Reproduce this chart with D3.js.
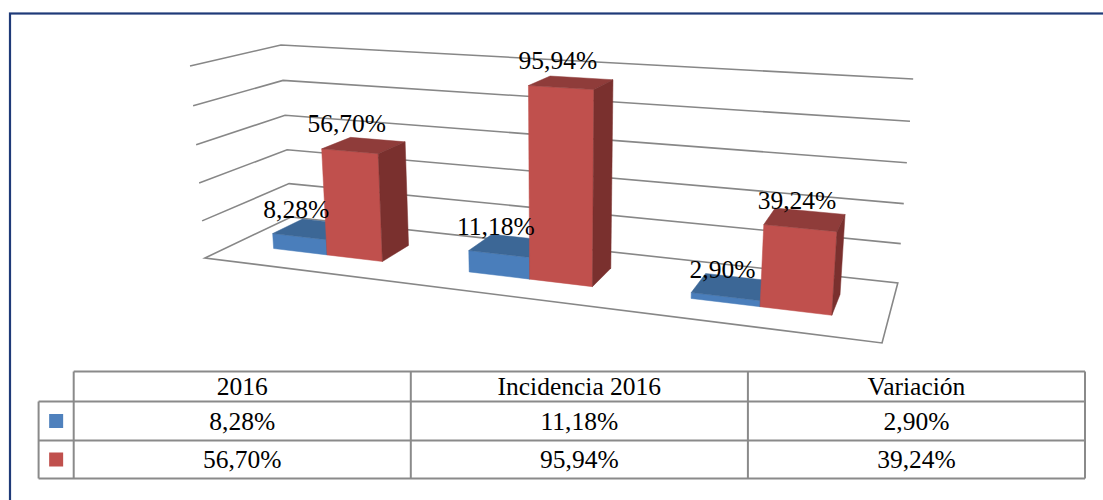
<!DOCTYPE html>
<html>
<head>
<meta charset="utf-8">
<script src="https://cdn.jsdelivr.net/npm/d3@7"></script>
<style>
body { margin: 0; background: #fff; }
</style>
</head>
<body>
<svg id="chart" width="1103" height="500"></svg>
<script>
// DATA
var categories = ["2016", "Incidencia 2016", "Variación"];
var serie1 = [8.28, 11.18, 2.90];
var serie2 = [56.70, 95.94, 39.24];
var valueTicks = [0, 20, 40, 60, 80, 100];

// STYLE
var faceColors = [
	{front: "#4A7EBB", top: "#3C6796", side: "#2F5480"},
	{front: "#C0504D", top: "#8F3C3A", side: "#7A302E"}
];
var legendColors = ["#4F81BD", "#C0504D"];
var gridColor = "#878787";
var tableColor = "#8A8A8A";
var fontSize = 25.5;
var fontFamily = "'Times New Roman', 'Liberation Serif', 'DejaVu Serif', serif";

// camera calibration: corners of the 3d box (world x 0..3, y 0..1, z 0 front..1 back) -> screen
var frameAnchors = [
	{w: [0, 0, 0], s: [206, 258]},
	{w: [0, 1, 0], s: [189, 66]},
	{w: [0, 0, 1], s: [290, 217]},
	{w: [0, 1, 1], s: [282, 45]},
	{w: [3, 0, 1], s: [898, 283]},
	{w: [3, 1, 1], s: [913, 79]},
	{w: [3, 0, 0], s: [882, 343]}
];
var zFront = 0.32, zBack = 0.68;

var svg = d3.select("#chart")
.attr("font-family", fontFamily);

// outer border of the chart area
svg.append("rect")
.attr("x", 10).attr("y", 13.5)
.attr("width", 1100).attr("height", 500)
.attr("fill", "none")
.attr("stroke", "#1F3A78")
.attr("stroke-width", 2.2);

// FUNCTIONS
function fitProjection(pts) {
	var rows = [], rhs = [];
	pts.forEach(function(p) {
		var X = p.w[0], Y = p.w[1], Z = p.w[2], u = p.s[0], v = p.s[1];
		rows.push([X, Y, Z, 1, 0, 0, 0, 0, -u*X, -u*Y, -u*Z]); rhs.push(u);
		rows.push([0, 0, 0, 0, X, Y, Z, 1, -v*X, -v*Y, -v*Z]); rhs.push(v);
	});
	var n = 11, A = [], b = [];
	for (var i = 0; i < n; i++) {
		A[i] = [];
		for (var j = 0; j < n; j++) A[i][j] = d3.sum(rows, function(r) { return r[i]*r[j]; });
		b[i] = d3.sum(rows, function(r, k) { return r[i]*rhs[k]; });
	}
	// gaussian elimination
	for (var c = 0; c < n; c++) {
		var piv = c;
		for (var r = c+1; r < n; r++) if (Math.abs(A[r][c]) > Math.abs(A[piv][c])) piv = r;
		var tmp = A[c]; A[c] = A[piv]; A[piv] = tmp;
		var tb = b[c]; b[c] = b[piv]; b[piv] = tb;
		for (var r2 = c+1; r2 < n; r2++) {
			var f = A[r2][c] / A[c][c];
			for (var k = c; k < n; k++) A[r2][k] -= f*A[c][k];
			b[r2] -= f*b[c];
		}
	}
	var p = new Array(n);
	for (var i2 = n-1; i2 >= 0; i2--) {
		var s = b[i2];
		for (var k2 = i2+1; k2 < n; k2++) s -= A[i2][k2]*p[k2];
		p[i2] = s / A[i2][i2];
	}
	return p;
}

var P = fitProjection(frameAnchors);

function proj(x, y, z) {
	var w = P[8]*x + P[9]*y + P[10]*z + 1;
	return [(P[0]*x + P[1]*y + P[2]*z + P[3]) / w, (P[4]*x + P[5]*y + P[6]*z + P[7]) / w];
}

function area(pts) {
	var a = 0;
	for (var i = 0; i < pts.length; i++) {
		var p = pts[i], q = pts[(i+1) % pts.length];
		a += p[0]*q[1] - q[0]*p[1];
	}
	return a;
}

var line = d3.line();

// SCALES
var yScale = d3.scaleLinear().domain([0, 100]).range([0, 1]);
var xBand = d3.scaleBand().domain(categories).range([0, 3]);
var serBand = d3.scaleBand().domain([0, 1]).range([0, xBand.bandwidth()]).paddingInner(0).paddingOuter(0.75);
var fmt = d3.formatLocale({decimal: ",", thousands: ".", grouping: [3], currency: ["", ""]}).format(".2f");

// WALLS
var walls = svg.append("g")
.attr("fill", "none")
.attr("stroke", gridColor)
.attr("stroke-width", 1.6);

valueTicks.filter(function(t) { return t > 0; }).forEach(function(t) {
	var y = yScale(t);
	walls.append("path").attr("d", line([proj(0, y, 0), proj(0, y, 1), proj(3, y, 1)]));
});
walls.append("path")
.attr("d", line([proj(0, 0, 0), proj(0, 0, 1), proj(3, 0, 1), proj(3, 0, 0)]) + "Z");

// BARS
var bars = [];
[serie1, serie2].forEach(function(serie, s) {
	serie.forEach(function(v, i) {
		var x0 = xBand(categories[i]) + serBand(s);
		bars.push({s: s, value: v, x0: x0, x1: x0 + serBand.bandwidth(), h: yScale(v)});
	});
});
bars.sort(function(a, b) { return a.x0 - b.x0; });

var barsCont = svg.append("g");
bars.forEach(function(d) {
	var x0 = d.x0, x1 = d.x1, h = d.h, z0 = zFront, z1 = zBack;
	var c = faceColors[d.s];
	var faces = [
		{pts: [[x0,0,z0],[x1,0,z0],[x1,h,z0],[x0,h,z0]], fill: c.front},
		{pts: [[x0,0,z1],[x0,h,z1],[x1,h,z1],[x1,0,z1]], fill: c.side},
		{pts: [[x0,h,z0],[x1,h,z0],[x1,h,z1],[x0,h,z1]], fill: c.top},
		{pts: [[x0,0,z0],[x0,0,z1],[x1,0,z1],[x1,0,z0]], fill: c.side},
		{pts: [[x1,0,z0],[x1,0,z1],[x1,h,z1],[x1,h,z0]], fill: c.side},
		{pts: [[x0,0,z0],[x0,h,z0],[x0,h,z1],[x0,0,z1]], fill: c.side}
	];
	var g = barsCont.append("g");
	faces.forEach(function(f) {
		var sp = f.pts.map(function(p) { return proj(p[0], p[1], p[2]); });
		if (area(sp) >= 0) return;
		g.append("path")
		.attr("d", line(sp) + "Z")
		.attr("fill", f.fill)
		.attr("stroke", f.fill)
		.attr("stroke-width", 0.5);
	});
});

// DATA LABELS
svg.append("g")
.selectAll("text")
.data(bars)
.enter()
.append("text")
.attr("text-anchor", "middle")
.attr("font-family", fontFamily)
.attr("font-size", fontSize)
.attr("fill", "#000")
.attr("x", function(d) { return proj((d.x0 + d.x1)/2, d.h, zFront)[0] - 3; })
.attr("y", function(d) { return proj((d.x0 + d.x1)/2, d.h, zFront)[1] - 19; })
.text(function(d) { return fmt(d.value) + "%"; });

// DATA TABLE
var tableLeft = 73.7, tableRight = 1085, legendLeft = 38.6;
var rowEdges = [371.5, 401.5, 440.5, 478.5];
var colScale = d3.scaleBand().domain(categories).range([tableLeft, tableRight]);
var table = svg.append("g");
var tableLines = table.append("g")
.attr("stroke", tableColor)
.attr("stroke-width", 2)
.attr("fill", "none");

// horizontal lines
tableLines.append("line").attr("x1", tableLeft).attr("x2", tableRight).attr("y1", rowEdges[0]).attr("y2", rowEdges[0]);
rowEdges.slice(1).forEach(function(y) {
	tableLines.append("line").attr("x1", legendLeft).attr("x2", tableRight).attr("y1", y).attr("y2", y);
});
// vertical lines
tableLines.append("line").attr("x1", legendLeft).attr("x2", legendLeft).attr("y1", rowEdges[1]).attr("y2", rowEdges[3]);
categories.forEach(function(c) {
	tableLines.append("line").attr("x1", colScale(c)).attr("x2", colScale(c)).attr("y1", rowEdges[0]).attr("y2", rowEdges[3]);
});
tableLines.append("line").attr("x1", tableRight).attr("x2", tableRight).attr("y1", rowEdges[0]).attr("y2", rowEdges[3]);

var tableText = table.append("g")
.attr("font-family", fontFamily)
.attr("font-size", fontSize)
.attr("text-anchor", "middle")
.attr("fill", "#000");

function rowBaseline(r) { return (rowEdges[r] + rowEdges[r+1]) / 2 + 8.5; }

categories.forEach(function(c) {
	tableText.append("text")
	.attr("x", colScale(c) + colScale.bandwidth()/2)
	.attr("y", rowBaseline(0))
	.text(c);
});
[serie1, serie2].forEach(function(serie, s) {
	serie.forEach(function(v, i) {
		tableText.append("text")
		.attr("x", colScale(categories[i]) + colScale.bandwidth()/2)
		.attr("y", rowBaseline(s+1))
		.text(fmt(v) + "%");
	});
	table.append("rect")
	.attr("x", (legendLeft + tableLeft)/2 - 7)
	.attr("y", (rowEdges[s+1] + rowEdges[s+2])/2 - 7)
	.attr("width", 14).attr("height", 14)
	.attr("fill", legendColors[s]);
});
</script>
</body>
</html>
